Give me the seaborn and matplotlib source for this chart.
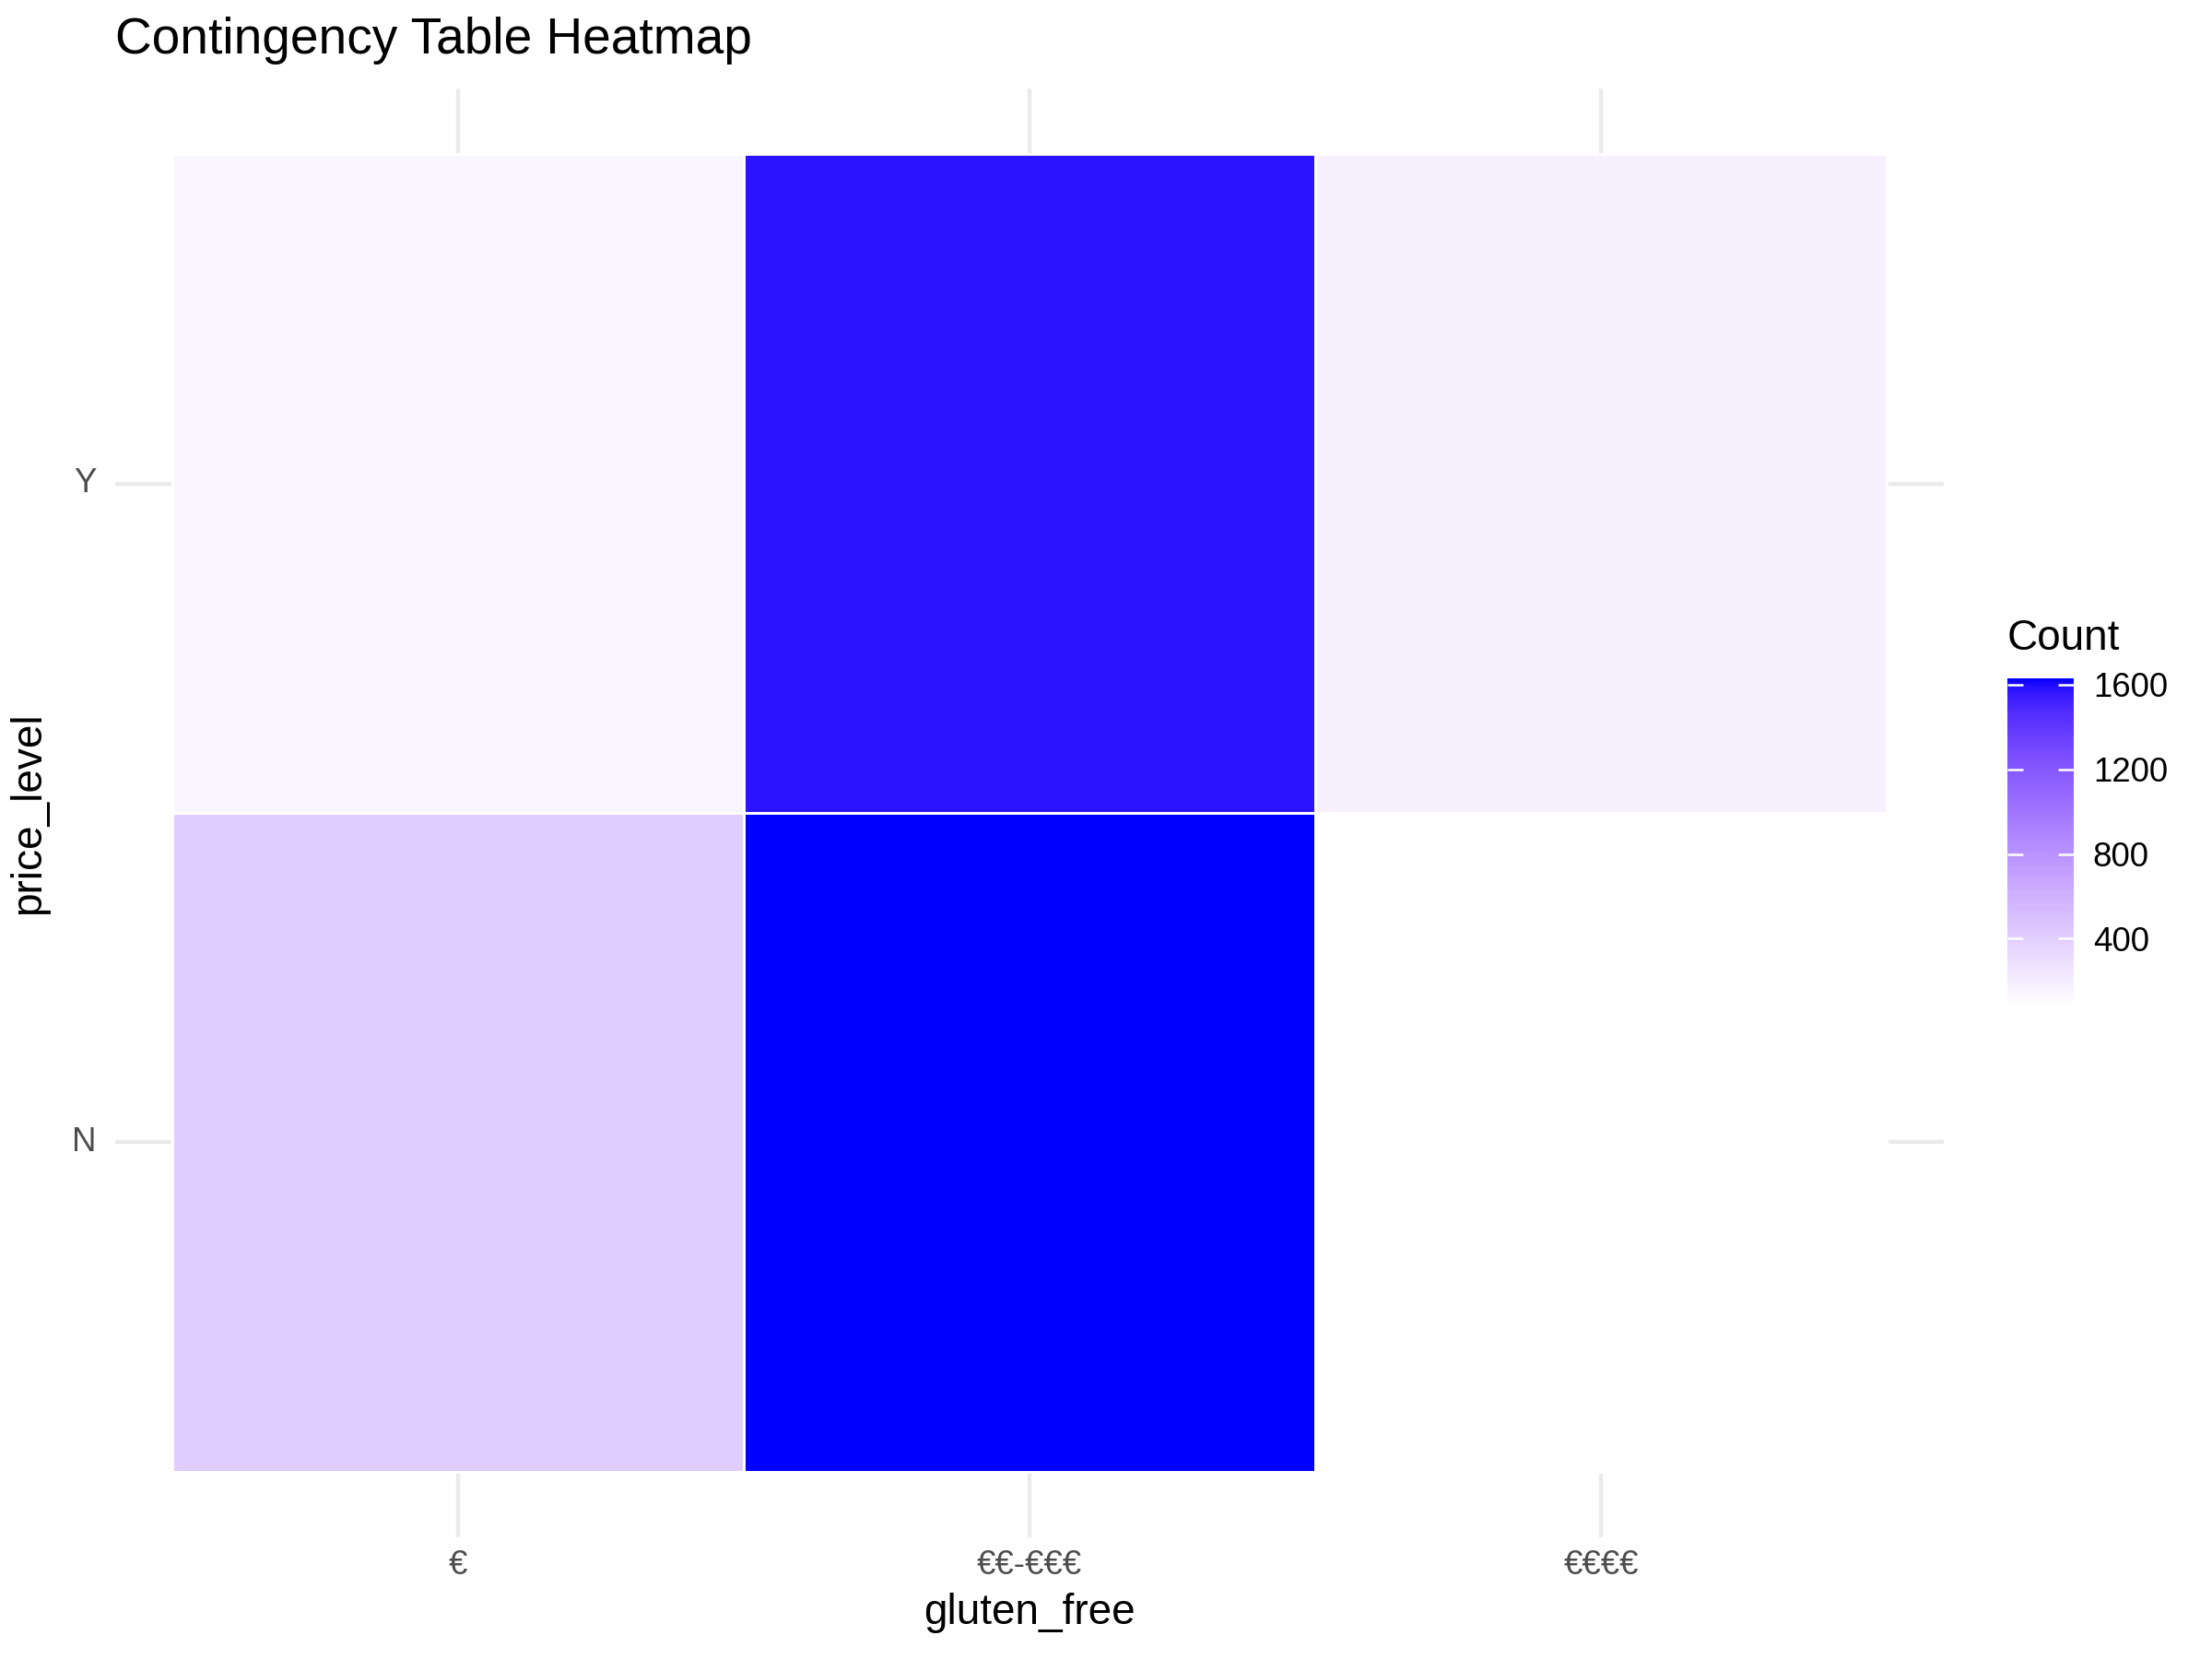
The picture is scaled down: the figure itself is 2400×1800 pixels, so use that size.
import numpy as np
import pandas as pd
import matplotlib
matplotlib.use("Agg")
import matplotlib.pyplot as plt
import seaborn as sns
from matplotlib.colors import ListedColormap

# data
price_levels = ["€", "€€-€€€", "€€€€"]
gluten_rows = ["Y", "N"]
counts_y = [138, 1580, 177]
counts_n = [417, 1630, 75]

table = pd.DataFrame([counts_y, counts_n], index=gluten_rows, columns=price_levels)


# ggplot-style white -> blue gradient, interpolated in CIELAB
def srgb_to_lab(rgb):
    rgb = np.asarray(rgb, dtype=float)
    lin = np.where(rgb <= 0.04045, rgb / 12.92, ((rgb + 0.055) / 1.055) ** 2.4)
    m = np.array([[0.4124, 0.3576, 0.1805],
                  [0.2126, 0.7152, 0.0722],
                  [0.0193, 0.1192, 0.9505]])
    xyz = m @ lin / np.array([0.95047, 1.0, 1.08883])
    f = np.where(xyz > 0.008856, np.cbrt(xyz), 7.787 * xyz + 16 / 116)
    return np.array([116 * f[1] - 16, 500 * (f[0] - f[1]), 200 * (f[1] - f[2])])


def lab_to_srgb(lab):
    L, a, b = lab
    fy = (L + 16) / 116
    fx = fy + a / 500
    fz = fy - b / 200
    f = np.array([fx, fy, fz])
    xyz = np.where(f ** 3 > 0.008856, f ** 3, (f - 16 / 116) / 7.787)
    xyz = xyz * np.array([0.95047, 1.0, 1.08883])
    minv = np.array([[3.2406, -1.5372, -0.4986],
                     [-0.9689, 1.8758, 0.0415],
                     [0.0557, -0.2040, 1.0570]])
    lin = minv @ xyz
    rgb = np.where(lin <= 0.0031308, 12.92 * lin, 1.055 * np.clip(lin, 0, None) ** (1 / 2.4) - 0.055)
    return np.clip(rgb, 0, 1)


lab_lo = srgb_to_lab([1, 1, 1])
lab_hi = srgb_to_lab([0, 0, 1])
ramp = [lab_to_srgb(lab_lo + t * (lab_hi - lab_lo)) for t in np.linspace(0, 1, 256)]
cmap = ListedColormap(ramp)

plt.rcParams["font.family"] = ["Liberation Sans", "DejaVu Sans"]

fig = plt.figure(figsize=(8, 6), dpi=300)
ax = fig.add_axes([0.0521, 0.0733, 0.8267, 0.8734])
cax = fig.add_axes([0.9075, 0.3928, 0.030, 0.1983])

sns.heatmap(table, cmap=cmap, ax=ax, cbar_ax=cax, linewidths=0.3, linecolor="white")

ax.set_xlim(-0.1, 3.1)
ax.set_ylim(2.1, -0.1)
ax.set_axisbelow(True)
ax.grid(True, color="#EBEBEB", linewidth=1.07)
for s in ax.spines.values():
    s.set_visible(False)
ax.tick_params(length=0, pad=3, labelsize=8.8, labelcolor="#4D4D4D")
ax.tick_params(axis="y", pad=5)
plt.setp(ax.get_yticklabels(), rotation=0)
ax.set_xlabel("gluten_free", fontsize=11, labelpad=3)
ax.set_ylabel("price_level", fontsize=11, labelpad=6)
ax.set_title("Contingency Table Heatmap", fontsize=13.2, loc="left", pad=9)

cbar = ax.collections[0].colorbar
cbar.outline.set_visible(False)
cbar.set_ticks([400, 800, 1200, 1600])
cax.yaxis.set_ticks_position("both")
cax.tick_params(direction="in", length=4, width=0.6, color="white",
                labelsize=8.8, labelcolor="black", pad=5, labelleft=False, labelright=True)
fig.text(0.9075, 0.615, "Count", fontsize=11, ha="left", va="center")

fig.savefig("out.png", dpi=300)
